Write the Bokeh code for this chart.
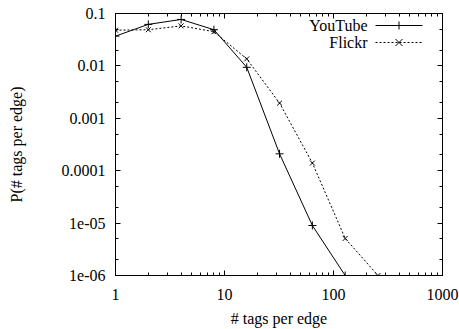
from bokeh.plotting import figure
from bokeh.models import LogAxis, FixedTicker, Label, Arrow, Range1d
from bokeh.embed import file_html
from bokeh.resources import INLINE

# ---- data ----
youtube_x = [1, 2, 4, 8, 16, 32, 64, 128]
youtube_p = [0.037, 0.062, 0.077, 0.049, 0.0094, 2.1e-4, 9.0e-6, 1.0e-6]
flickr_x = [1, 2, 4, 8, 16, 32, 64, 128, 256]
flickr_p = [0.048, 0.049, 0.058, 0.045, 0.0136, 1.95e-3, 1.4e-4, 5.1e-6, 1.0e-6]

x_ticks = [1, 10, 100, 1000]
x_tick_labels = ["1", "10", "100", "1000"]
y_ticks = [1e-6, 1e-5, 1e-4, 1e-3, 1e-2, 1e-1]
y_tick_labels = ["1e-06", "1e-05", "0.0001", "0.001", "0.01", "0.1"]
series_names = ["YouTube", "Flickr"]

FONT = "serif"
FS = "16px"

x_minor = [m * 10 ** k for k in range(0, 3) for m in range(2, 10)]
y_minor = [m * 10.0 ** k for k in range(-6, -1) for m in (2, 5)]

p = figure(width=459, height=329, x_axis_type="log", y_axis_type="log",
           x_range=Range1d(1, 1000), y_range=Range1d(1e-6, 0.1),
           output_backend="svg", toolbar_location=None,
           min_border_left=115, min_border_right=17, min_border_top=13, min_border_bottom=54)
p.grid.visible = False
p.background_fill_color = "white"
p.border_fill_color = "white"
p.outline_line_color = "black"
p.outline_line_width = 1

def style(ax):
    ax.axis_line_color = "black"
    ax.major_tick_line_color = "black"
    ax.minor_tick_line_color = "black"
    ax.major_tick_in = 5
    ax.major_tick_out = 0
    ax.minor_tick_in = 3
    ax.minor_tick_out = 0
    ax.major_label_text_font = FONT
    ax.major_label_text_font_size = FS
    ax.major_label_text_color = "black"
    ax.axis_label_text_font = FONT
    ax.axis_label_text_font_size = FS
    ax.axis_label_text_font_style = "normal"
    ax.axis_label_text_color = "black"

xt = FixedTicker(ticks=x_ticks, minor_ticks=x_minor)
yt = FixedTicker(ticks=y_ticks, minor_ticks=y_minor)

xa = p.xaxis[0]
xa.ticker = xt
xa.major_label_overrides = {t: l for t, l in zip(x_ticks, x_tick_labels)}
xa.axis_label = "# tags per edge"
style(xa)
xa.major_label_standoff = 13
xa.axis_label_standoff = 7

ya = p.yaxis[0]
ya.ticker = yt
ya.major_label_overrides = {t: l for t, l in zip(y_ticks, y_tick_labels)}
ya.axis_label = "P(# tags per edge)"
style(ya)
ya.major_label_standoff = 10
ya.axis_label_standoff = 34

ra = LogAxis(ticker=yt)
style(ra)
ra.major_label_overrides = {t: "" for t in y_ticks}
ra.major_label_standoff = 0
p.add_layout(ra, "right")
ta = LogAxis(ticker=xt)
style(ta)
ta.major_label_overrides = {t: "" for t in x_ticks}
ta.major_label_standoff = 0
p.add_layout(ta, "above")

# YouTube
p.line(youtube_x, youtube_p, line_color="black", line_width=1)
p.scatter(youtube_x, youtube_p, marker="cross", size=8, line_color="black", line_width=1)
# Flickr
p.line(flickr_x, flickr_p, line_color="black", line_width=1, line_dash="2 2")
p.scatter(flickr_x, flickr_p, marker="x", size=7, line_color="black", line_width=1)

# legend (gnuplot style: label left, sample right), frame-relative screen units
fh = 262
rows = [fh - 12, fh - 29]
text_right = 252
ls, le = 260, 307
mc = (ls + le) / 2
for name, yy, dash in zip(series_names, rows, ["solid", "2 2"]):
    p.add_layout(Label(x=text_right, y=yy, x_units="screen", y_units="screen", text=name,
                       text_align="right", text_baseline="middle",
                       text_font=FONT, text_font_size=FS, text_color="black"))
    p.add_layout(Arrow(x_start=ls, y_start=yy, x_end=le, y_end=yy,
                       start_units="screen", end_units="screen", end=None,
                       line_color="black", line_width=1, line_dash=dash))
# markers of the legend samples
p.add_layout(Arrow(x_start=mc, y_start=rows[0] - 4, x_end=mc, y_end=rows[0] + 4,
                   start_units="screen", end_units="screen", end=None,
                   line_color="black", line_width=1))
for d in (1, -1):
    p.add_layout(Arrow(x_start=mc - 3.5, y_start=rows[1] - 3.5 * d, x_end=mc + 3.5, y_end=rows[1] + 3.5 * d,
                       start_units="screen", end_units="screen", end=None,
                       line_color="black", line_width=1))

open("out.html", "w").write(file_html(p, INLINE))
